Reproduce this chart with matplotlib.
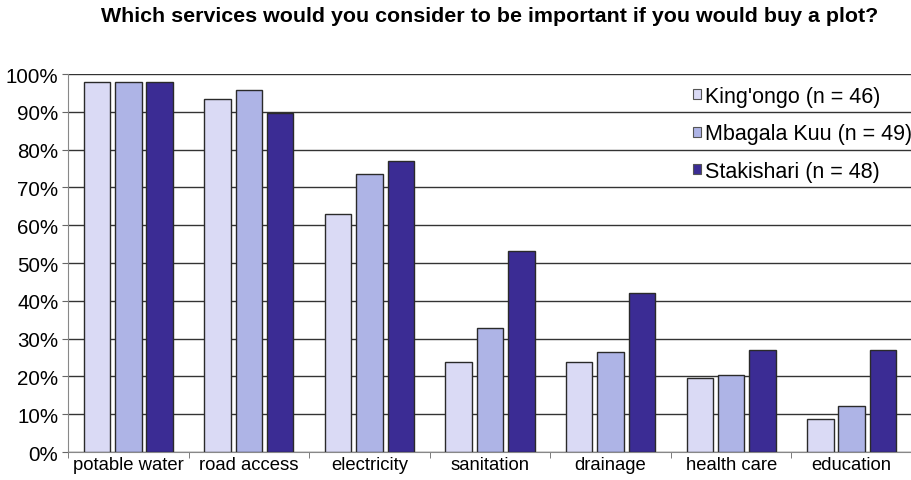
import numpy as np
import matplotlib.pyplot as plt
from matplotlib.ticker import FixedLocator, PercentFormatter

plt.rcParams["font.family"] = ["Liberation Sans", "DejaVu Sans"]

services = ["potable water", "road access", "electricity", "sanitation",
            "drainage", "health care", "education"]
kingongo = [97.8, 93.5, 63.0, 23.9, 23.9, 19.6, 8.7]
mbagala = [98.0, 95.9, 73.5, 32.7, 26.5, 20.4, 12.2]
stakishari = [97.9, 89.6, 77.1, 53.2, 42.0, 27.1, 27.1]
labels = ["King'ongo (n = 46)", "Mbagala Kuu (n = 49)", "Stakishari (n = 48)"]
colors = ["#DADAF5", "#AEB4E6", "#3B2C94"]

fig = plt.figure(figsize=(9.12, 4.81), dpi=100)
ax = fig.add_axes([0.0746, 0.058, 0.9254, 0.786])

x = np.arange(len(services))
step = 0.26
for i, (vals, lab, col) in enumerate(zip([kingongo, mbagala, stakishari], labels, colors)):
    ax.bar(x + (i - 1) * step, vals, width=0.22, color=col, edgecolor="#2a2a2a",
           linewidth=1.0, label=lab, zorder=3)

ax.set_xlim(-0.5, len(services) - 0.5)
ax.set_ylim(0, 100)
ax.set_yticks(np.arange(0, 101, 10))
ax.yaxis.set_major_formatter(PercentFormatter(decimals=0))
ax.yaxis.grid(True, color="#333333", linewidth=1.0, zorder=0)
ax.set_axisbelow(True)

ax.set_xticks(x)
ax.set_xticklabels(services)
ax.xaxis.set_minor_locator(FixedLocator(np.arange(-0.5, len(services), 1.0)))
ax.tick_params(axis="x", which="major", length=0, labelsize=13.3, pad=3)
ax.tick_params(axis="x", which="minor", length=4, color="#666666", direction="out")
ax.tick_params(axis="y", length=4, color="#666666", labelsize=14.8, pad=3)

for side in ["top", "right"]:
    ax.spines[side].set_visible(False)
for side in ["left", "bottom"]:
    ax.spines[side].set_color("#888888")

leg = ax.legend(loc="upper right", bbox_to_anchor=(1.0, 0.968), frameon=False,
                fontsize=15.5, handlelength=0.33, handleheight=0.33, handletextpad=0.2,
                labelspacing=0.76, borderaxespad=0.0, borderpad=0.0)
for h in leg.legend_handles:
    h.set_edgecolor("#555555")
    h.set_linewidth(0.8)

fig.suptitle("Which services would you consider to be important if you would buy a plot?",
             x=0.537, y=0.985, fontsize=15.4, fontweight="bold")

fig.savefig("out.png", dpi=100)
